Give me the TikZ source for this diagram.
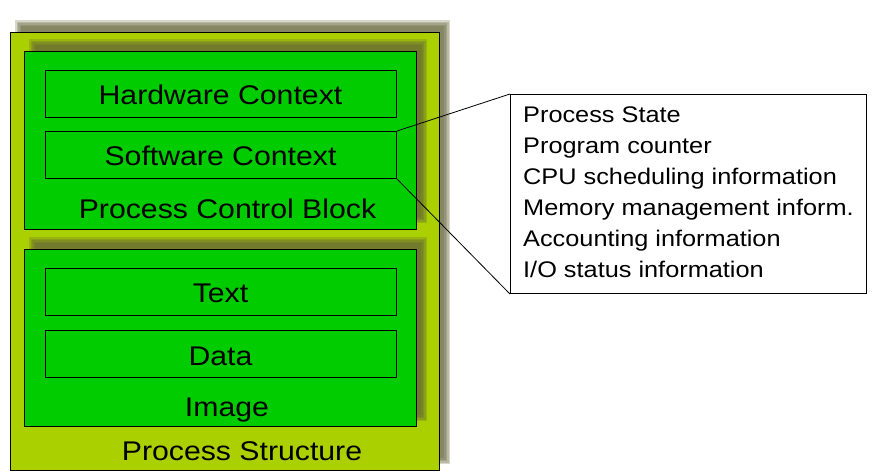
\documentclass[tikz,border=0pt]{standalone}
\usepackage{fontspec}
\setmainfont[FakeStretch=1.12]{Liberation Sans}
\definecolor{outerfill}{RGB}{170,208,0}
\definecolor{innerfill}{RGB}{0,204,0}
\definecolor{shadowcol}{RGB}{100,100,58}
\newcommand{\blurshadow}[4]{%
  \foreach \d in {-3,-1.5,0,1.5,3}{
    \fill[shadowcol, fill opacity=0.26] (#1+\d,#2+\d) rectangle (#3-\d,#4-\d);
  }}
\begin{document}
\begin{tikzpicture}[x=1pt,y=-1pt,
  boxline/.style={draw=black, line width=1pt},
  bigtext/.style={font=\fontsize{27}{32}\selectfont, anchor=base, inner sep=0pt},
  infotext/.style={font=\fontsize{22.6}{31}\selectfont, anchor=base west, inner sep=0pt},
  conn/.style={draw=black, line width=0.8pt}]
\useasboundingbox (0,0) rectangle (878,475);
% outer structure
\blurshadow{18}{23}{447}{461}
\fill[outerfill] (10,32) rectangle (439,470);
\draw[boxline] (10,32) rectangle (439,470);
\node[bigtext] (ps) at (242,460) {Process Structure};
% PCB
\blurshadow{32}{42}{424}{220}
\node[boxline, fill=innerfill, minimum width=392pt, minimum height=178pt, inner sep=0pt, anchor=north west] (pcb) at (24,51) {};
\node[boxline, minimum width=351pt, minimum height=47pt, inner sep=0pt, anchor=north west] (hw) at (45,70) {};
\node[boxline, minimum width=351pt, minimum height=47pt, inner sep=0pt, anchor=north west] (sw) at (45,131) {};
\node[bigtext] (hwl) at (220.5,104.3) {Hardware Context};
\node[bigtext] (swl) at (220.5,165.7) {Software Context};
\node[bigtext] (pcbl) at (227.5,218.3) {Process Control Block};
% Image
\blurshadow{32}{240}{424}{418}
\node[boxline, fill=innerfill, minimum width=392pt, minimum height=177pt, inner sep=0pt, anchor=north west] (img) at (24,249) {};
\node[boxline, minimum width=351pt, minimum height=47pt, inner sep=0pt, anchor=north west] (txt) at (45,268) {};
\node[boxline, minimum width=351pt, minimum height=47pt, inner sep=0pt, anchor=north west] (dat) at (45,330) {};
\node[bigtext] (txtl) at (220.5,302.7) {Text};
\node[bigtext] (datl) at (220.5,365) {Data};
\node[bigtext] (imgl) at (227,416.7) {Image};
% info box
\node[boxline, fill=white, minimum width=356pt, minimum height=199pt, inner sep=0pt, anchor=north west] (info) at (510,94) {};
\node[infotext] (i1) at (523,122.7) {Process State};
\node[infotext] (i2) at (523,153.7) {Program counter};
\node[infotext] (i3) at (523,184.7) {CPU scheduling information};
\node[infotext] (i4) at (523,215.7) {Memory management inform.};
\node[infotext] (i5) at (523,246.7) {Accounting information};
\node[infotext] (i6) at (523,277.7) {I/O status information};
% connectors
\draw[conn] (sw.north east) -- (info.north west);
\draw[conn] (sw.south east) -- (info.south west);
\end{tikzpicture}
\end{document}
